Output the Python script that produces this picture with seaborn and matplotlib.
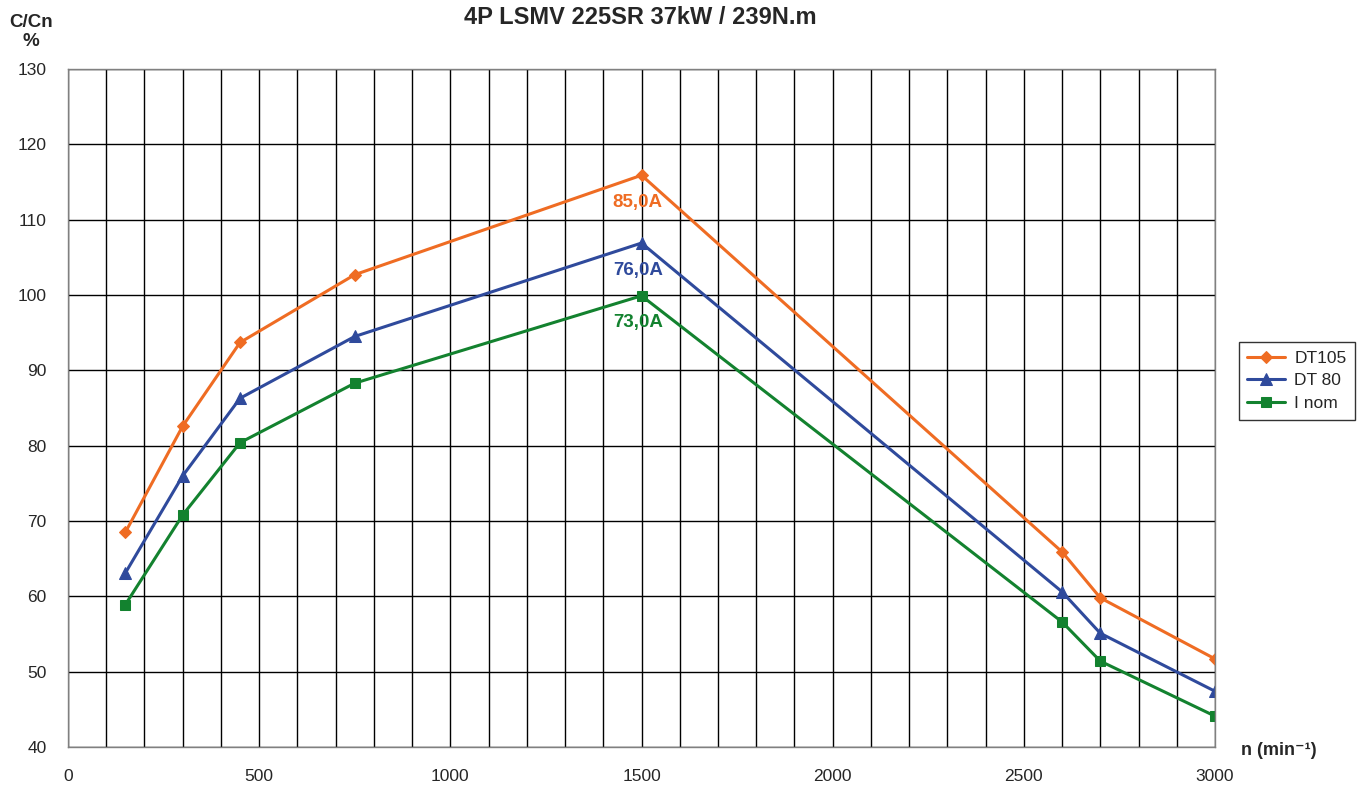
import matplotlib.pyplot as plt
import pandas as pd
import numpy as np
import seaborn as sns

# data
speed = [150, 300, 450, 750, 1500, 2600, 2700, 3000]
dt105 = [68.5, 82.6, 93.7, 102.7, 115.9, 65.9, 59.8, 51.7]
dt80 = [63.1, 76.0, 86.3, 94.5, 106.9, 60.6, 55.1, 47.4]
inom = [58.9, 70.8, 80.4, 88.3, 99.9, 56.6, 51.4, 44.1]
series_names = ["DT105", "DT 80", "I nom"]
peak_labels = ["85,0A", "76,0A", "73,0A"]
peak_label_y = [112.3, 103.3, 96.3]

colors = ["#EF6C23", "#2F4A9C", "#13822F"]
markers = ["D", "^", "s"]
msizes = [6, 8, 7]

sns.set_style("white")
plt.rcParams['font.family'] = ['Liberation Sans', 'DejaVu Sans']

fig = plt.figure(figsize=(13.6, 7.88), dpi=100)
ax = fig.add_axes([0.05, 0.052, 0.8434, 0.8604])

for name, vals, c, m, ms in zip(series_names, [dt105, dt80, inom], colors, markers, msizes):
    df = pd.DataFrame({"n": speed, "v": vals})
    sns.lineplot(data=df, x="n", y="v", ax=ax, color=c, marker=m, markersize=ms,
                 markeredgecolor=c, linewidth=2.2, label=name)

for lab, y, c in zip(peak_labels, peak_label_y, colors):
    ax.text(1490, y, lab, color=c, fontsize=13.5, fontweight="bold", ha="center", va="center")

ax.set_xlim(0, 3000)
ax.set_ylim(40, 130)
ax.set_xticks(np.arange(0, 3001, 500))
ax.set_xticks(np.arange(0, 3001, 100), minor=True)
ax.set_yticks(np.arange(40, 131, 10))
ax.grid(True, which="both", axis="x", color="black", linewidth=1)
ax.grid(True, which="major", axis="y", color="black", linewidth=1)
ax.tick_params(axis="both", which="major", length=3.5, width=1, color="#606060",
               labelsize=12.5, pad=12)
ax.tick_params(axis="both", which="minor", length=0)
for s in ax.spines.values():
    s.set_color("#808080")
    s.set_linewidth(1)
ax.set_xlabel("")
ax.set_ylabel("")

fig.text(0.4706, 0.978, "4P LSMV 225SR 37kW / 239N.m", fontsize=17, fontweight="bold",
         ha="center", va="center")
fig.text(0.023, 0.959, "C/Cn\n%", fontsize=13.5, fontweight="bold", ha="center", va="center",
         linespacing=1.15)
fig.text(0.940, 0.048, "n (min⁻¹)", fontsize=13, fontweight="bold",
         ha="center", va="center")

leg = ax.legend(loc="center left", bbox_to_anchor=(1.013, 0.54), frameon=True, fancybox=False,
                fontsize=12.5, handlelength=2.2, borderpad=0.5, labelspacing=0.42,
                handletextpad=0.5)
leg.get_frame().set_edgecolor("black")
leg.get_frame().set_linewidth(1)

fig.savefig("out.png", dpi=100)
